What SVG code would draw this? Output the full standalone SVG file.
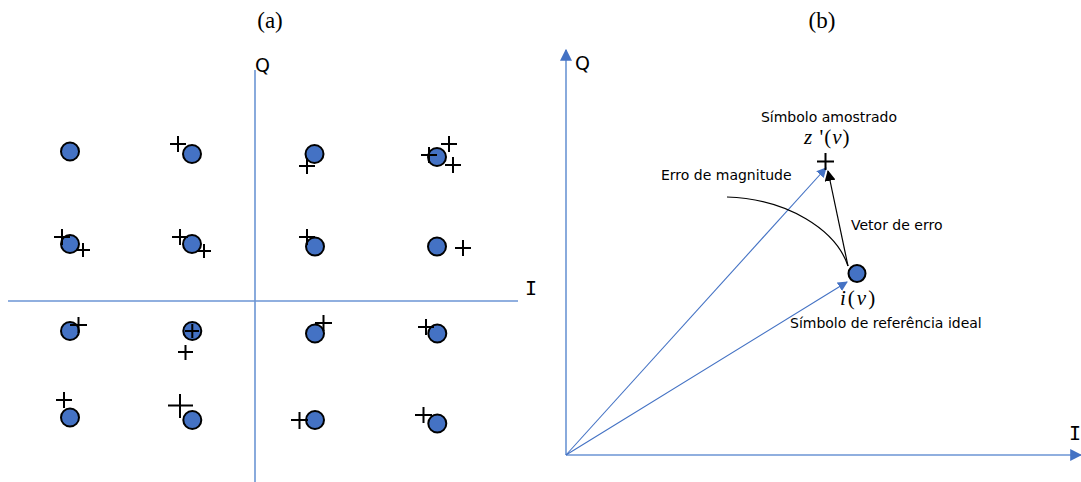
<svg xmlns="http://www.w3.org/2000/svg" width="1081" height="482" viewBox="0 0 1081 482">
<style>
.axis{stroke:#6b95d4;stroke-width:1.6;fill:none}
.vec{stroke:#4472c4;stroke-width:1.1;fill:none}
.pt{fill:#4472c4;stroke:#000;stroke-width:2}
.plus{stroke:#000;stroke-width:2;fill:none}
.lbl{font-family:"DejaVu Sans",Verdana,sans-serif;font-size:14px;fill:#000}
.ax{font-family:"DejaVu Sans",Verdana,sans-serif;font-size:19px;fill:#000}
.axi{font-family:"DejaVu Sans Mono",monospace;font-size:20px;fill:#000}
.cap{font-family:"Liberation Serif","DejaVu Serif",serif;font-size:23px;fill:#000}
.math{font-family:"Liberation Serif","DejaVu Serif",serif;font-size:21px;fill:#000}
</style>
<defs>
<marker id="ab" viewBox="0 0 10 10" refX="9" refY="5" markerWidth="10" markerHeight="10" markerUnits="userSpaceOnUse" orient="auto"><path d="M0,0 L10,5 L0,10 z" fill="#4472c4"/></marker>
<marker id="abig" viewBox="0 0 10 10" refX="9" refY="5" markerWidth="12" markerHeight="12" markerUnits="userSpaceOnUse" orient="auto"><path d="M0,0 L10,5 L0,10 z" fill="#4472c4"/></marker>
<marker id="ak" viewBox="0 0 10 10" refX="9" refY="5" markerWidth="11" markerHeight="11" markerUnits="userSpaceOnUse" orient="auto"><path d="M0,0 L10,5 L0,10 z" fill="#000"/></marker>
</defs>

<text class="cap" x="270" y="28" text-anchor="middle">(a)</text>
<text class="cap" x="822" y="28" text-anchor="middle">(b)</text>

<g id="panel-a-axes">
<line class="axis" x1="255" y1="70" x2="255" y2="482"/>
<line class="axis" x1="8" y1="301" x2="518" y2="301"/>
<text class="ax" x="255" y="72">Q</text>
<text class="axi" x="525" y="295">I</text>
</g>

<g id="panel-a-points">
<circle class="pt" cx="70" cy="151.5" r="9"/>
<circle class="pt" cx="192" cy="154" r="9"/>
<circle class="pt" cx="314.5" cy="154" r="9"/>
<circle class="pt" cx="437" cy="157" r="9"/>
<circle class="pt" cx="70" cy="244" r="9"/>
<circle class="pt" cx="192" cy="244" r="9"/>
<circle class="pt" cx="315" cy="246.5" r="9"/>
<circle class="pt" cx="437" cy="246.5" r="9"/>
<circle class="pt" cx="70" cy="331" r="9"/>
<circle class="pt" cx="192.3" cy="331" r="9"/>
<circle class="pt" cx="315" cy="333.5" r="9"/>
<circle class="pt" cx="437.3" cy="333.5" r="9"/>
<circle class="pt" cx="70" cy="417.5" r="9"/>
<circle class="pt" cx="192.3" cy="420" r="9"/>
<circle class="pt" cx="315" cy="420" r="9"/>
<circle class="pt" cx="437.3" cy="423.5" r="9"/>
</g>

<g id="panel-a-samples">
<path class="plus" d="M170,144h16M178,136v16"/>
<path class="plus" d="M299,166h16M307,158v16"/>
<path class="plus" d="M421,155h16M429,147v16"/>
<path class="plus" d="M441,144h16M449,136v16"/>
<path class="plus" d="M445,165h16M453,157v16"/>
<path class="plus" d="M54,237h16M62,229v16"/>
<path class="plus" d="M76,250h14M83,243v14"/>
<path class="plus" d="M172,237h16M180,229v16"/>
<path class="plus" d="M197,251h14M204,244v14"/>
<path class="plus" d="M299,237h16M307,229v16"/>
<path class="plus" d="M455,248h16M463,240v16"/>
<path class="plus" d="M70,325h17M78.5,317v16"/>
<path class="plus" d="M185,331h14M192.3,324v14"/>
<path class="plus" d="M178,352h15M185.5,345v15"/>
<path class="plus" d="M315,323h17M323.5,315v16"/>
<path class="plus" d="M418,327h16M426,319v16"/>
<path class="plus" d="M56,400h16M64,392v16"/>
<path class="plus" d="M168,405.5h25M180,394v24"/>
<path class="plus" d="M291,420h17M299.5,412v17"/>
<path class="plus" d="M415,415h17M423.5,407v16"/>
</g>

<g id="panel-b-axes">
<line class="axis" x1="566" y1="455" x2="566" y2="50" marker-end="url(#abig)"/>
<line class="axis" x1="566" y1="455" x2="1081" y2="455" marker-end="url(#abig)"/>
<text class="ax" x="575" y="70">Q</text>
<text class="axi" x="1069" y="440">I</text>
</g>

<g id="connectors">
<line class="vec" x1="566" y1="455" x2="826" y2="168" marker-end="url(#ab)"/>
<line class="vec" x1="566" y1="455" x2="847" y2="282" marker-end="url(#ab)"/>
<line x1="848" y1="266" x2="828" y2="171" stroke="#000" stroke-width="1.2" marker-end="url(#ak)"/>
<path d="M727,197 C788,199 836,230 848,266" fill="none" stroke="#000" stroke-width="1.2"/>
</g>

<g id="node-iv">
<circle class="pt" cx="857" cy="273.5" r="8.5"/>
<text class="math" x="840" y="305" letter-spacing="2"><tspan font-style="italic">i</tspan>(<tspan font-style="italic">v</tspan>)</text>
<text class="lbl" x="790" y="328">Símbolo de referência ideal</text>
</g>

<g id="node-zv">
<path class="plus" d="M817,161.5h17M825.5,153v17"/>
<text class="lbl" x="829" y="122" text-anchor="middle">Símbolo amostrado</text>
<text class="math" x="804" y="144" letter-spacing="1"><tspan font-style="italic">z</tspan> '(<tspan font-style="italic">v</tspan>)</text>
</g>

<g id="labels-b">
<text class="lbl" x="661" y="180">Erro de magnitude</text>
<text class="lbl" x="851" y="230">Vetor de erro</text>
</g>
</svg>
